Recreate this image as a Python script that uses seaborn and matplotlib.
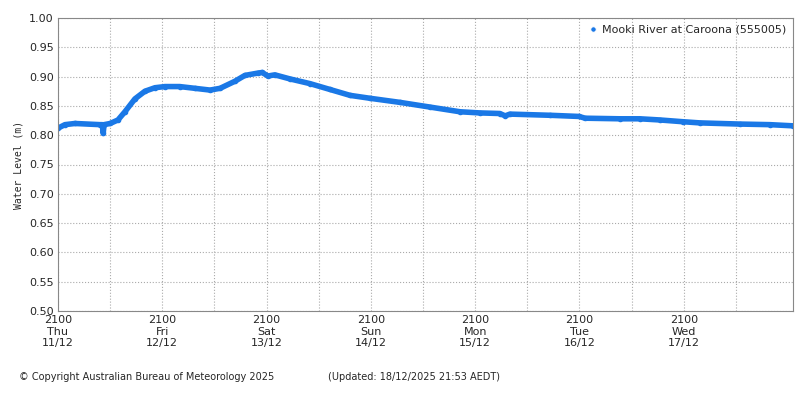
import matplotlib
matplotlib.use('Agg')
import matplotlib.pyplot as plt
import seaborn as sns
import pandas as pd

# hours since 11/12 21:00 and water level (m)
hours = [0, 1.6, 3.9, 9.7, 10.2, 10.4, 10.6, 12, 13.8, 15.4, 17.7, 20, 22.3, 24.6, 28,
         31.5, 35, 37.3, 40.7, 43, 46, 47, 48.3, 49.9, 53.4, 58, 62.6, 67.2, 71.8,
         78.7, 85.6, 92.5, 97.1, 101.7, 102.9, 104, 113.2, 119.9, 121.3, 129.3,
         133.9, 138.5, 143.8, 147.7, 156.9, 163.8, 169.1]
level = [0.812, 0.818, 0.820, 0.818, 0.818, 0.803, 0.818, 0.820, 0.826, 0.840, 0.862,
         0.875, 0.881, 0.883, 0.883, 0.880, 0.877, 0.880, 0.892, 0.902, 0.906, 0.907,
         0.901, 0.903, 0.896, 0.888, 0.878, 0.868, 0.863, 0.856, 0.848, 0.840, 0.838,
         0.837, 0.833, 0.836, 0.834, 0.832, 0.829, 0.828, 0.828, 0.826, 0.823, 0.821,
         0.819, 0.818, 0.816]
tick_labels = ['2100\nThu\n11/12', '2100\nFri\n12/12', '2100\nSat\n13/12', '2100\nSun\n14/12',
               '2100\nMon\n15/12', '2100\nTue\n16/12', '2100\nWed\n17/12']

df = pd.DataFrame({'hours': hours, 'level': level})
color = '#1a78e6'

sns.set_style('white')
fig = plt.figure(figsize=(8, 4), dpi=100)
ax = fig.add_axes([0.0725, 0.2225, 0.9185, 0.7325])
sns.lineplot(data=df, x='hours', y='level', ax=ax, color=color, linewidth=4,
             label='Mooki River at Caroona (555005)')
ax.plot(hours, level, 'o', color=color, markersize=3)

ax.set_xlim(0, 169.1)
ax.set_ylim(0.5, 1.0)
ax.set_xticks([24 * i for i in range(7)])
ax.set_xticklabels(tick_labels, fontsize=8)
ax.set_xticks([12 + 24 * i for i in range(7)], minor=True)
ax.set_yticks([0.5 + 0.05 * i for i in range(11)])
ax.set_yticklabels([f'{0.5 + 0.05 * i:.2f}' for i in range(11)], fontsize=8)
ax.grid(True, which='both', linestyle=':', color='#aaaaaa', linewidth=0.8)
ax.tick_params(which='both', length=0, pad=3)
ax.set_xlabel('')
ax.set_ylabel('Water Level (m)', fontsize=7, family='DejaVu Sans Mono')
for s in ax.spines.values():
    s.set_color('#888888')

leg = ax.legend(loc='upper right', frameon=False, fontsize=8, handlelength=0.6,
                handletextpad=0.5, borderaxespad=0.2)
for h in leg.legend_handles:
    h.set_linestyle('')
    h.set_marker('o')
    h.set_markersize(4)

fig.text(0.024, 0.05, '© Copyright Australian Bureau of Meteorology 2025', fontsize=7)
fig.text(0.41, 0.05, '(Updated: 18/12/2025 21:53 AEDT)', fontsize=7)

fig.savefig('out.png')
